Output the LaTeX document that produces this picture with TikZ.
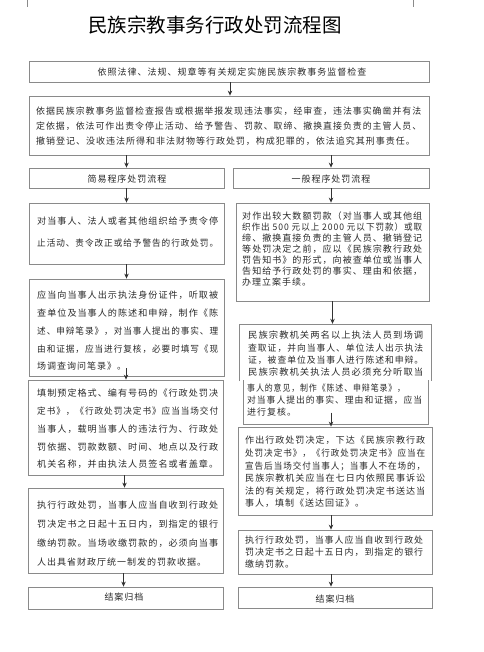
\documentclass[tikz,border=0pt]{standalone}
\usepackage{fontspec}
\usepackage{graphicx}
\newfontfamily\bodyfont[LetterSpace=11]{Noto Sans CJK SC}
\newfontfamily\titlefont{Noto Sans CJK SC}
\newcommand\fitto[2]{\resizebox{#1}{\height}{#2}}
\usetikzlibrary{arrows.meta,calc}
\definecolor{boxgray}{HTML}{8A8A8A}
\definecolor{txtc}{HTML}{2A2A2A}
\definecolor{arrc}{HTML}{333333}
\tikzset{
  box/.style={draw=boxgray, line width=0.8pt, inner sep=0pt},
  frame/.style={draw=boxgray, line width=0.8pt},
  txt/.style={inner sep=0pt, anchor=north west, align=left, text=txtc, font=\bodyfont\fontsize{9}{#1}\selectfont},
  ctxt/.style={inner sep=0pt, anchor=center, text=txtc, font=\bodyfont\fontsize{9}{11}\selectfont},
  arr/.style={-{Stealth[length=5pt,width=4.5pt]}, line width=0.8pt, draw=arrc}
}
\begin{document}
\begin{tikzpicture}[x=1pt,y=-1pt]
\useasboundingbox[fill=white] (0,0) rectangle (483,652);
% crop marks
\draw[boxgray, line width=0.6pt] (27,0) -- (27,7);
\draw[boxgray, line width=0.6pt] (413,0) -- (413,7);

\node[inner sep=0pt, font=\titlefont\fontsize{19.5}{22}\selectfont, text=black] (title) at (215,25) {民族宗教事务行政处罚流程图};

% boxes
\node[box, minimum width=400pt, minimum height=21pt] (b1) at (229,71.5) {};
\node[box, minimum width=400pt, minimum height=59pt] (b2) at (229,125.5) {};
\node[box, minimum width=195pt, minimum height=20pt] (b3l) at (126.5,178) {};
\node[box, minimum width=196pt, minimum height=20pt] (b3r) at (331,178) {};
\node[box, minimum width=195pt, minimum height=61pt] (b4l) at (126.5,233.5) {};
\node[box, minimum width=193pt, minimum height=98pt] (b4r) at (332.5,252) {};
\node[box, minimum width=195pt, minimum height=97pt] (b5l) at (126.5,327.5) {};
\node[inner sep=0pt, minimum width=192pt, minimum height=100pt] (b5r) at (335,374) {};
\draw[frame] (239,381) -- (239,324) -- (431,324) -- (431,381);
\draw[frame] (243,380) -- (243,424) -- (428,424) -- (428,380);
\node[box, minimum width=195pt, minimum height=95pt] (b6l) at (125.5,427.5) {};
\node[box, minimum width=194pt, minimum height=88pt] (b6r) at (335,471) {};
\node[box, minimum width=195pt, minimum height=85pt] (b7l) at (125.5,530.5) {};
\node[box, minimum width=194pt, minimum height=44pt] (b7r) at (335,552) {};
\node[box, minimum width=195pt, minimum height=22pt] (b8l) at (125.5,598) {};
\node[box, minimum width=194pt, minimum height=21pt] (b8r) at (335,597.5) {};

% texts
\node[ctxt] (t1) at (232,72) {依照法律、法规、规章等有关规定实施民族宗教事务监督检查};
\node[txt=15] (t2) at (36,107) {\fitto{385pt}{依据民族宗教事务监督检查报告或根据举报发现违法事实，经审查，违法事实确凿并有法}\\\fitto{385pt}{定依据，依法可作出责令停止活动、给予警告、罚款、取缔、撤换直接负责的主管人员、}\\撤销登记、没收违法所得和非法财物等行政处罚，构成犯罪的，依法追究其刑事责任。};
\node[ctxt] (t3l) at (127,179) {简易程序处罚流程};
\node[ctxt] (t3r) at (331,179) {一般程序处罚流程};
\node[txt=22] (t4l) at (37,217) {\fitto{181pt}{对当事人、法人或者其他组织给予责令停}\\\fitto{181pt}{止活动、责令改正或给予警告的行政处罚。}};
\node[txt=17.75] (t5l) at (37,291) {\fitto{181pt}{应当向当事人出示执法身份证件，听取被}\\\fitto{181pt}{查单位及当事人的陈述和申辩，制作《陈}\\\fitto{181pt}{述、申辩笔录》，对当事人提出的事实、理}\\\fitto{181pt}{由和证据，应当进行复核，必要时填写《现}\\场调查询问笔录》。};
\node[txt=17.75] (t6l) at (37,389) {\fitto{181pt}{填制预定格式、编有号码的《行政处罚决}\\\fitto{181pt}{定书》，《行政处罚决定书》应当当场交付}\\\fitto{181pt}{当事人，载明当事人的违法行为、行政处}\\\fitto{181pt}{罚依据、罚款数额、时间、地点以及行政}\\\fitto{181pt}{机关名称，并由执法人员签名或者盖章。}};
\node[txt=19] (t7l) at (37,501) {\fitto{181pt}{执行行政处罚，当事人应当自收到行政处}\\\fitto{181pt}{罚决定书之日起十五日内，到指定的银行}\\\fitto{181pt}{缴纳罚款。当场收缴罚款的，必须向当事}\\人出具省财政厅统一制发的罚款收据。};
\node[ctxt] (t8l) at (124,597.5) {结案归档};
\node[txt=11] (t4r) at (242,212) {\fitto{180pt}{对作出较大数额罚款（对当事人或其他组}\\\fitto{180pt}{织作出 500 元以上 2000 元以下罚款）或取}\\\fitto{180pt}{缔、撤换直接负责的主管人员、撤销登记}\\\fitto{180pt}{等处罚决定之前，应以《民族宗教行政处}\\\fitto{180pt}{罚告知书》的形式，向被查单位或当事人}\\\fitto{180pt}{告知给予行政处罚的事实、理由和依据，}\\办理立案手续。};
\node[txt=12.3] (t5ru) at (248,331) {\fitto{175pt}{民族宗教机关两名以上执法人员到场调}\\\fitto{175pt}{查取证，并向当事人、单位法人出示执法}\\\fitto{175pt}{证，被查单位及当事人进行陈述和申辩。}\\\fitto{175pt}{民族宗教机关执法人员必须充分听取当}};
\node[txt=12] (t5rl) at (247,384) {\fitto{158pt}{事人的意见，制作《陈述、申辩笔录》，}\\\fitto{175pt}{对当事人提出的事实、理由和证据，应当}\\进行复核。};
\node[txt=12.6] (t6r) at (245,436) {\fitto{180pt}{作出行政处罚决定，下达《民族宗教行政}\\\fitto{180pt}{处罚决定书》，《行政处罚决定书》应当在}\\\fitto{180pt}{宣告后当场交付当事人；当事人不在场的，}\\\fitto{180pt}{民族宗教机关应当在七日内依照民事诉讼}\\\fitto{180pt}{法的有关规定，将行政处罚决定书送达当}\\事人，填制《送达回证》。};
\node[txt=12] (t7r) at (245,536) {\fitto{178pt}{执行行政处罚，当事人应当自收到行政处}\\\fitto{178pt}{罚决定书之日起十五日内，到指定的银行}\\缴纳罚款。};
\node[ctxt] (t8r) at (335,599) {结案归档};

% connectors
\draw[arr] ([xshift=1pt]b1.south) -- ([xshift=1pt]b1.south |- b2.north);
\draw[arr] (b3l.north |- b2.south) -- (b3l.north);
\draw[arr] (b3r.north |- b2.south) -- (b3r.north);
\draw[arr] (b3l.south) -- (b4l.north);
\draw[arr] (b3r.south) -- (b3r.south |- b4r.north);
\draw[arr] (b4l.south) -- (b5l.north);
\draw[arr] (b4r.south) -- (b4r.south |- b5r.north);
\coordinate (s56l) at ($(b6l.north |- b5l.south)+(0.5,-8)$);
\draw[arr] (s56l) -- ($(b6l.north)+(0.5,0)$);
\coordinate (s56r) at ($(b6r.north)+(-4,-14)$);
\draw[arr] (s56r) -- ($(b6r.north)+(-4,0)$);
\draw[arr] ([xshift=-1pt]b6l.south) -- ([xshift=-1pt]b7l.north);
\draw[arr] ([xshift=-4pt]b6r.south) -- ([xshift=-4pt]b7r.north);
\draw[arr] ([xshift=-2pt]b7l.south) -- ([xshift=-2pt]b8l.north);
\draw[arr] ([xshift=-4pt]b7r.south) -- ([xshift=-4pt]b8r.north);
\end{tikzpicture}
\end{document}
